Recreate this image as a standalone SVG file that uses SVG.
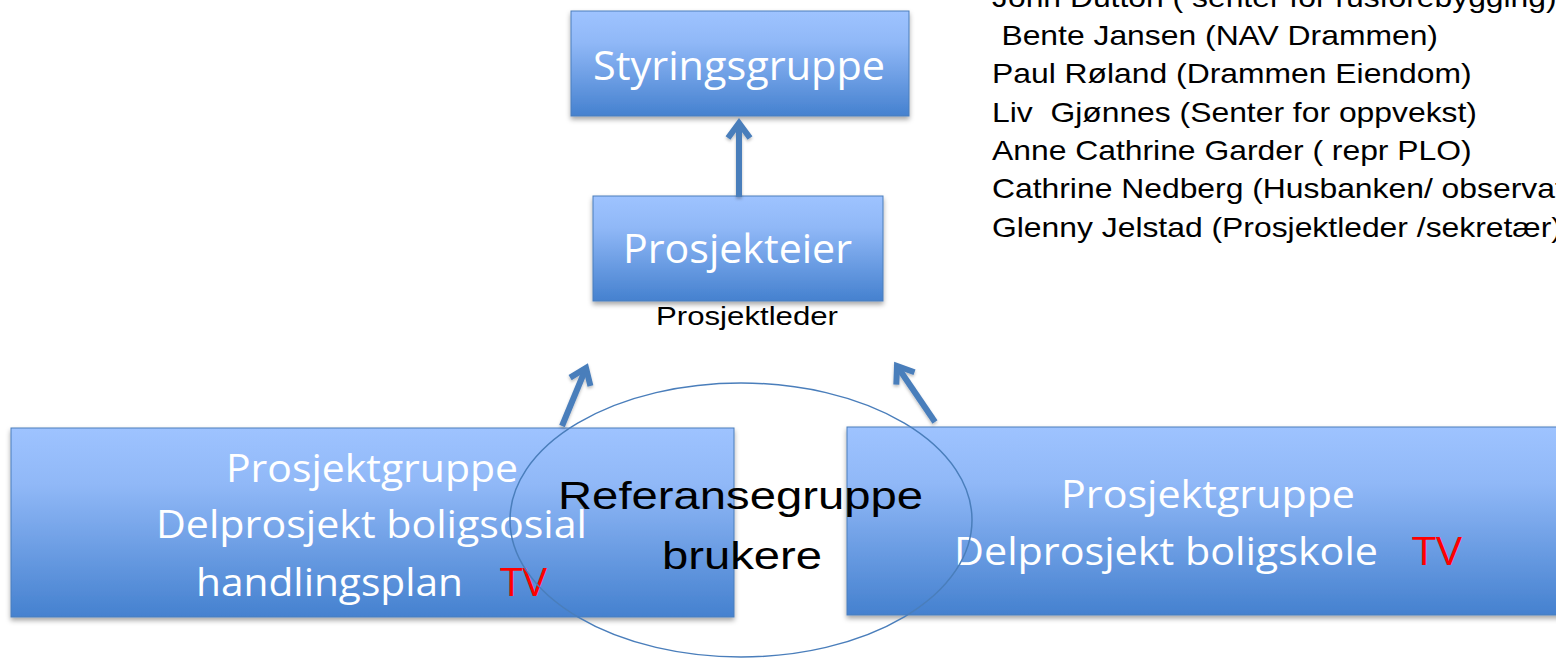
<svg xmlns="http://www.w3.org/2000/svg" width="1556" height="659" viewBox="0 0 1556 659">
<style>
.box{fill:url(#g);stroke:#4a7ebb;stroke-width:1;filter:url(#sh)}
.bt{font-family:"Open Sans","Noto Sans",sans-serif;fill:#fff}
.tv{fill:#ff0000}
.blk{font-family:"Liberation Sans",Arial,sans-serif;fill:#000}
.list{font-family:"Liberation Sans",Arial,sans-serif;font-size:27px;fill:#000;white-space:pre}
.arr{stroke:#4a7ebb;stroke-width:6;fill:none;marker-end:url(#ah)}
</style>
<defs>
<linearGradient id="g" x1="0" y1="0" x2="0" y2="1">
<stop offset="0" stop-color="#9ec3ff"/>
<stop offset="0.3" stop-color="#90b8f7"/>
<stop offset="1" stop-color="#4581cf"/>
</linearGradient>
<filter id="sh" x="-5%" y="-10%" width="110%" height="130%">
<feDropShadow dx="0" dy="3" stdDeviation="2.5" flood-color="#000" flood-opacity="0.35"/>
</filter>
<filter id="sh2" filterUnits="userSpaceOnUse" x="0" y="0" width="1556" height="659">
<feDropShadow dx="0" dy="2" stdDeviation="1.5" flood-color="#000" flood-opacity="0.25"/>
</filter>
<marker id="ah" markerUnits="userSpaceOnUse" markerWidth="40" markerHeight="40" viewBox="-25 -20 40 40" refX="0" refY="0" orient="auto">
<path d="M-15,-11 L0,0 L-15,11" fill="none" stroke="#4a7ebb" stroke-width="6" stroke-linejoin="miter"/>
</marker>
</defs>

<g id="styringsgruppe">
<rect class="box" x="571" y="11" width="338" height="105"/>
<text class="bt" x="593" y="80" font-size="40" textLength="292" lengthAdjust="spacingAndGlyphs">Styringsgruppe</text>
</g>

<g id="prosjekteier">
<rect class="box" x="593" y="196" width="290" height="105"/>
<text class="bt" x="623" y="263" font-size="40" textLength="229" lengthAdjust="spacingAndGlyphs">Prosjekteier</text>
<text class="blk" x="656" y="325" font-size="25" textLength="182" lengthAdjust="spacingAndGlyphs">Prosjektleder</text>
</g>

<g id="prosjektgruppe-boligsosial">
<rect class="box" x="11" y="428" width="723" height="189"/>
<text class="bt" x="226" y="482" font-size="38" textLength="292" lengthAdjust="spacingAndGlyphs">Prosjektgruppe</text>
<text class="bt" x="156" y="538" font-size="38" textLength="431" lengthAdjust="spacingAndGlyphs">Delprosjekt boligsosial</text>
<text class="bt" x="196" y="596" font-size="38" textLength="267" lengthAdjust="spacingAndGlyphs">handlingsplan</text>
<text class="bt tv" x="500" y="596" font-size="38" textLength="47" lengthAdjust="spacingAndGlyphs">TV</text>
</g>

<g id="prosjektgruppe-boligskole">
<rect class="box" x="847" y="427" width="720" height="188"/>
<text class="bt" x="1061" y="508" font-size="38" textLength="294" lengthAdjust="spacingAndGlyphs">Prosjektgruppe</text>
<text class="bt" x="954" y="565" font-size="38" textLength="424" lengthAdjust="spacingAndGlyphs">Delprosjekt boligskole</text>
<text class="bt tv" x="1412" y="565" font-size="38" textLength="50" lengthAdjust="spacingAndGlyphs">TV</text>
</g>

<g id="referansegruppe">
<ellipse cx="741" cy="520" rx="231" ry="137" fill="none" stroke="#4a7ebb" stroke-width="1.5"/>
<text class="blk" x="558" y="509" font-size="38" textLength="365" lengthAdjust="spacingAndGlyphs">Referansegruppe</text>
<text class="blk" x="662" y="569" font-size="38" textLength="160" lengthAdjust="spacingAndGlyphs">brukere</text>
</g>

<g id="medlemmer" transform="translate(992,0) scale(1.18,1)">
<text class="list" x="0" y="7">John Dutton ( senter for rusforebygging)</text>
<text class="list" x="8" y="45">Bente Jansen (NAV Drammen)</text>
<text class="list" x="0" y="83">Paul Røland (Drammen Eiendom)</text>
<text class="list" x="0" y="122">Liv  Gjønnes (Senter for oppvekst)</text>
<text class="list" x="0" y="160">Anne Cathrine Garder ( repr PLO)</text>
<text class="list" x="0" y="198">Cathrine Nedberg (Husbanken/ observatør)</text>
<text class="list" x="0" y="237">Glenny Jelstad (Prosjektleder /sekretær)</text>
</g>

<g id="connectors" filter="url(#sh2)">
<line class="arr" x1="739" y1="197" x2="739" y2="123"/>
<line class="arr" x1="562" y1="426" x2="586" y2="368"/>
<line class="arr" x1="935" y1="422" x2="897" y2="366"/>
</g>
</svg>
